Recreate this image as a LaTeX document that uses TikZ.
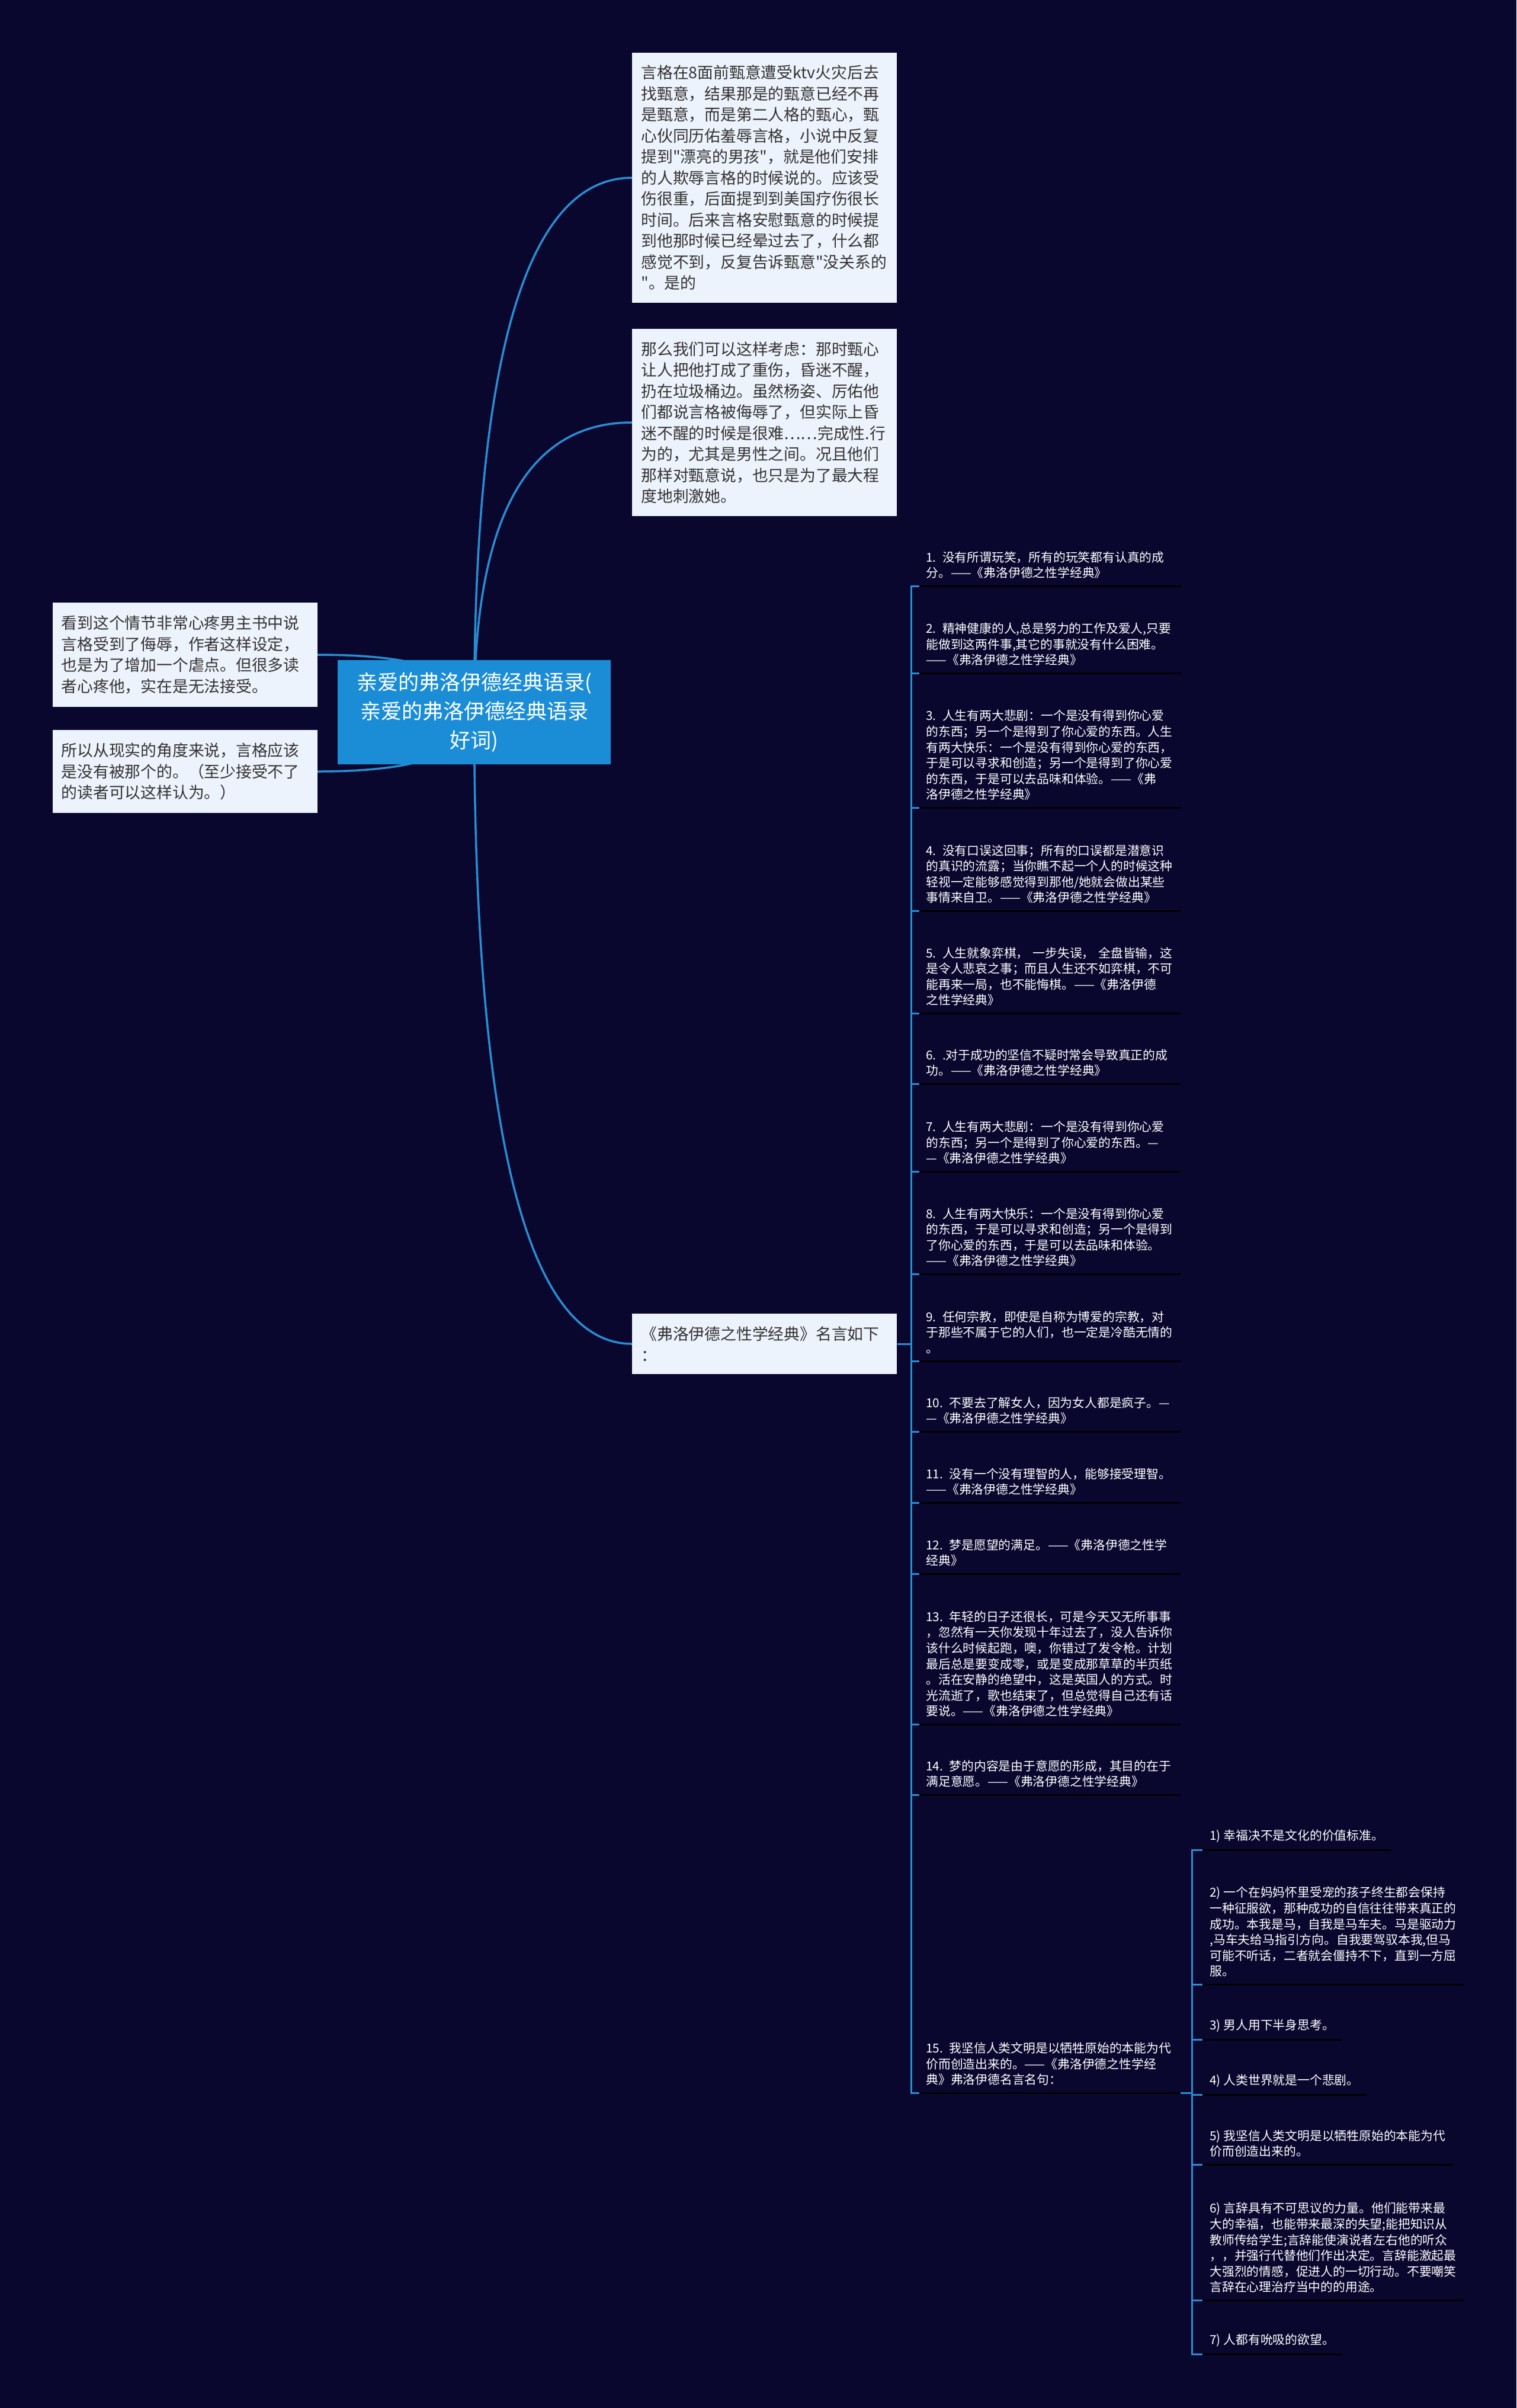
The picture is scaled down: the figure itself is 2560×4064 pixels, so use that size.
\documentclass[tikz,border=0pt]{standalone}
\usepackage{fontspec}
\setmainfont{Noto Sans CJK SC}[Ligatures=TeXOff]
\usetikzlibrary{backgrounds}
\definecolor{bgnavy}{RGB}{10,7,46}
\definecolor{boxfill}{RGB}{237,243,252}
\definecolor{boxtext}{RGB}{51,51,51}
\definecolor{rootfill}{RGB}{27,141,214}
\definecolor{linkblue}{RGB}{40,142,212}

\begin{document}
\begin{tikzpicture}[x=0.5pt, y=-0.5pt,
  box/.style={fill=boxfill, text=boxtext, text width=208.5pt, align=left,
              inner xsep=7.5pt, inner ysep=10.75pt,
              font=\fontsize{13.4}{17.75}\selectfont},
  root/.style={fill=rootfill, text=white, text width=215.5pt, align=center,
               minimum width=230.5pt, minimum height=88pt, inner xsep=7.5pt,
               font=\fontsize{17.5}{24.5}\selectfont},
  qtxt/.style={text=white, align=left, inner ysep=6pt, anchor=south west,
               font=\fontsize{10.4}{13.3}\selectfont},
  quote/.style={qtxt, text width=209pt, inner xsep=5.5pt},
  subq/.style={qtxt, inner xsep=6pt},
  link/.style={draw=linkblue, line width=1.75pt},
  tick/.style={draw=linkblue, line width=1.5pt},
  uline/.style={draw=black, line width=1.5pt}]
\useasboundingbox (0,0) rectangle (2560,4064);

% root and the big boxes
\node[root] (ctr) at (800.5,1202) {亲爱的弗洛伊德经典语录(\\亲爱的弗洛伊德经典语录\\好词)};
\node[box, anchor=west] (t1) at (1067,300) {言格在8面前甄意遭受ktv火灾后去\\找甄意，结果那是的甄意已经不再\\是甄意，而是第二人格的甄心，甄\\心伙同历佑羞辱言格，小说中反复\\提到"漂亮的男孩"，就是他们安排\\的人欺辱言格的时候说的。应该受\\伤很重，后面提到到美国疗伤很长\\时间。后来言格安慰甄意的时候提\\到他那时候已经晕过去了，什么都\\感觉不到，反复告诉甄意"没关系的\\"。是的};
\node[box, anchor=west] (t2) at (1067,713) {那么我们可以这样考虑：那时甄心\\让人把他打成了重伤，昏迷不醒，\\扔在垃圾桶边。虽然杨姿、厉佑他\\们都说言格被侮辱了，但实际上昏\\迷不醒的时候是很难……完成性.行\\为的，尤其是男性之间。况且他们\\那样对甄意说，也只是为了最大程\\度地刺激她。};
\node[box, anchor=east] (l1) at (536,1105) {看到这个情节非常心疼男主书中说\\言格受到了侮辱，作者这样设定，\\也是为了增加一个虐点。但很多读\\者心疼他，实在是无法接受。};
\node[box, anchor=east] (l2) at (536,1302) {所以从现实的角度来说，言格应该\\是没有被那个的。（至少接受不了\\的读者可以这样认为。）};
\node[box, anchor=west] (fq) at (1067,2268) {《弗洛伊德之性学经典》名言如下\\：};

% quotes
\node[quote] (q1) at (1552,989) {1. 没有所谓玩笑，所有的玩笑都有认真的成\\分。——《弗洛伊德之性学经典》};
\node[quote] (q2) at (1552,1136) {2. 精神健康的人,总是努力的工作及爱人,只要\\能做到这两件事,其它的事就没有什么困难。\\——《弗洛伊德之性学经典》};
\node[quote] (q3) at (1552,1363) {3. 人生有两大悲剧：一个是没有得到你心爱\\的东西；另一个是得到了你心爱的东西。人生\\有两大快乐：一个是没有得到你心爱的东西，\\于是可以寻求和创造；另一个是得到了你心爱\\的东西，于是可以去品味和体验。——《弗\\洛伊德之性学经典》};
\node[quote] (q4) at (1552,1537) {4. 没有口误这回事；所有的口误都是潜意识\\的真识的流露；当你瞧不起一个人的时候这种\\轻视一定能够感觉得到那他/她就会做出某些\\事情来自卫。——《弗洛伊德之性学经典》};
\node[quote] (q5) at (1552,1710) {5. 人生就象弈棋， 一步失误， 全盘皆输，这\\是令人悲哀之事；而且人生还不如弈棋，不可\\能再来一局，也不能悔棋。——《弗洛伊德\\之性学经典》};
\node[quote] (q6) at (1552,1829) {6. .对于成功的坚信不疑时常会导致真正的成\\功。——《弗洛伊德之性学经典》};
\node[quote] (q7) at (1552,1977) {7. 人生有两大悲剧：一个是没有得到你心爱\\的东西；另一个是得到了你心爱的东西。—\\—《弗洛伊德之性学经典》};
\node[quote] (q8) at (1552,2150) {8. 人生有两大快乐：一个是没有得到你心爱\\的东西，于是可以寻求和创造；另一个是得到\\了你心爱的东西，于是可以去品味和体验。\\——《弗洛伊德之性学经典》};
\node[quote] (q9) at (1552,2297) {9. 任何宗教，即使是自称为博爱的宗教，对\\于那些不属于它的人们，也一定是冷酷无情的\\。};
\node[quote] (q10) at (1552,2416) {10. 不要去了解女人，因为女人都是疯子。—\\—《弗洛伊德之性学经典》};
\node[quote] (q11) at (1552,2536) {11. 没有一个没有理智的人，能够接受理智。\\——《弗洛伊德之性学经典》};
\node[quote] (q12) at (1552,2656) {12. 梦是愿望的满足。——《弗洛伊德之性学\\经典》};
\node[quote] (q13) at (1552,2910) {13. 年轻的日子还很长，可是今天又无所事事\\，忽然有一天你发现十年过去了，没人告诉你\\该什么时候起跑，噢，你错过了发令枪。计划\\最后总是要变成零，或是变成那草草的半页纸\\。活在安静的绝望中，这是英国人的方式。时\\光流逝了，歌也结束了，但总觉得自己还有话\\要说。——《弗洛伊德之性学经典》};
\node[quote] (q14) at (1552,3029) {14. 梦的内容是由于意愿的形成，其目的在于\\满足意愿。——《弗洛伊德之性学经典》};
\node[quote] (q15) at (1552,3532) {15. 我坚信人类文明是以牺牲原始的本能为代\\价而创造出来的。——《弗洛伊德之性学经\\典》弗洛伊德名言名句：};

% sub quotes of 15
\node[subq] (s1) at (2030,3122) {1) 幸福决不是文化的价值标准。};
\node[subq] (s2) at (2030,3349) {2) 一个在妈妈怀里受宠的孩子终生都会保持\\一种征服欲，那种成功的自信往往带来真正的\\成功。本我是马，自我是马车夫。马是驱动力\\,马车夫给马指引方向。自我要驾驭本我,但马\\可能不听话，二者就会僵持不下，直到一方屈\\服。};
\node[subq] (s3) at (2030,3442) {3) 男人用下半身思考。};
\node[subq] (s4) at (2030,3535) {4) 人类世界就是一个悲剧。};
\node[subq] (s5) at (2030,3653) {5) 我坚信人类文明是以牺牲原始的本能为代\\价而创造出来的。};
\node[subq] (s6) at (2030,3882) {6) 言辞具有不可思议的力量。他们能带来最\\大的幸福，也能带来最深的失望;能把知识从\\教师传给学生;言辞能使演说者左右他的听众\\，，并强行代替他们作出决定。言辞能激起最\\大强烈的情感，促进人的一切行动。不要嘲笑\\言辞在心理治疗当中的的用途。};
\node[subq] (s7) at (2030,3973) {7) 人都有吮吸的欲望。};

\foreach \n in {q1,q2,q3,q4,q5,q6,q7,q8,q9,q10,q11,q12,q13,q14,q15,s1,s2,s3,s4,s5,s6,s7}
  \draw[uline] (\n.south west) -- (\n.south east);

\begin{scope}[on background layer]
\fill[bgnavy] (0,0) rectangle (2560,4064);
\draw[link] (ctr.center) .. controls +(0,-601) and +(-178,0) .. (t1.west);
\draw[link] (ctr.center) .. controls +(0,-326) and +(-178,0) .. (t2.west);
\draw[link] (ctr.center) .. controls +(0,711) and +(-178,0) .. (fq.west);
\draw[link] (l1.east) .. controls +(176,0) and +(0,-65) .. (ctr.center);
\draw[link] (l2.east) .. controls +(176,0) and +(0,67) .. (ctr.center);
\foreach \i in {1,...,15}
  \draw[tick] (fq.east) -- ++(24,0) |- (q\i.south west);
\foreach \i in {1,...,7}
  \draw[tick] (q15.south east) -- ++(20,0) |- (s\i.south west);
\end{scope}
\end{tikzpicture}
\end{document}
